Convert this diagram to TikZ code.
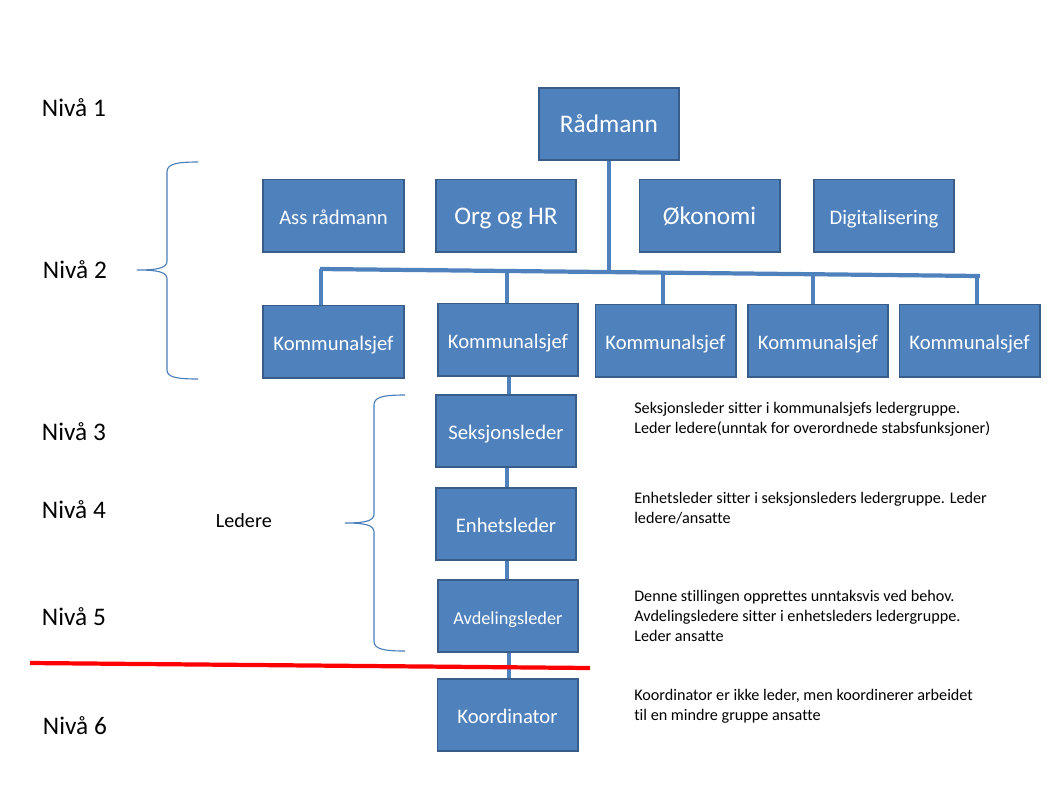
\documentclass[tikz,border=0pt]{standalone}
\usepackage{fontspec}
\setmainfont{Carlito}[Ligatures=NoCommon]
\usetikzlibrary{calc}

\definecolor{boxfill}{HTML}{4F81BD}
\definecolor{boxdraw}{HTML}{385D8A}
\definecolor{bracecol}{HTML}{4A7EBB}

\begin{document}
\begin{tikzpicture}[x=0.025cm, y=-0.025cm,
    orgbox/.style={draw=boxdraw, line width=1.4pt, fill=boxfill, text=white, minimum width=3.5cm, minimum height=1.8cm, inner sep=1pt, text height=12.5pt, text depth=0pt},
    big/.style={font=\fontsize{18}{21}\selectfont},
    mid/.style={font=\fontsize{14.7}{17}\selectfont},
    level/.style={anchor=west, font=\fontsize{18}{21}\selectfont},
    note/.style={anchor=north west, align=left, inner sep=0pt, font=\fontsize{11.5}{14.2}\selectfont},
    link/.style={draw=boxfill, line width=3pt},
    brace/.style={draw=bracecol, line width=0.8pt}]
    \useasboundingbox (0,0) rectangle (1048,785);

    % top level
    \node[orgbox, big] (radmann) at (609,124) {Rådmann};
    \node[orgbox, mid] (ass) at (333.5,215.5) {Ass rådmann};
    \node[orgbox, big] (orghr) at (506,215.5) {Org og HR};
    \node[orgbox, big] (okonomi) at (709.5,215.5) {Økonomi};
    \node[orgbox, mid] (digital) at (884,215.5) {Digitalisering};

    % kommunalsjefer
    \node[orgbox, mid] (ks1) at (333.5,341.5) {Kommunalsjef};
    \node[orgbox, mid] (ks2) at (508,339.5) {Kommunalsjef};
    \node[orgbox, mid] (ks3) at (665.5,340.5) {Kommunalsjef};
    \node[orgbox, mid] (ks4) at (818,340.5) {Kommunalsjef};
    \node[orgbox, mid] (ks5) at (969.5,340.5) {Kommunalsjef};

    % ledere under
    \node[orgbox, mid] (seksjon) at (506,431) {Seksjonsleder};
    \node[orgbox, mid] (enhet) at (506,524) {Enhetsleder};
    \node[orgbox, font=\fontsize{13}{15}\selectfont] (avdeling) at (508,616) {Avdelingsleder};
    \node[orgbox, mid] (koord) at (507.5,715) {Koordinator};

    % bar and drops
    \coordinate (barL) at (320,269);
    \coordinate (barR) at (980,276);
    \coordinate (d1) at (321,269);
    \coordinate (d2) at (507,271);
    \coordinate (d3) at (663,272.6);
    \coordinate (d4) at (813,274.2);
    \coordinate (d5) at (977,276);
    \draw[link] (radmann.south) -- (radmann.south |- 0,271.8);
    \draw[link] (barL) -- (barR);
    \foreach \d/\k in {d1/ks1, d2/ks2, d3/ks3, d4/ks4, d5/ks5}
      \draw[link] (\d) -- (\d |- \k.north);

    \draw[link] (509,0 |- ks2.south) -- (509,0 |- seksjon.north);
    \draw[link] (507,0 |- seksjon.south) -- (507,0 |- enhet.north);
    \draw[link] (507,0 |- enhet.south) -- (507,0 |- avdeling.north);
    \draw[link] (509,0 |- avdeling.south) -- (509,0 |- koord.north);

    % red line
    \coordinate (redL) at (30,663);
    \coordinate (redR) at (590,668);
    \draw[red, line width=3pt] (redL) -- (redR);

    % braces
    \draw[brace] (198,162) .. controls (176,162) and (167,164) .. (167,172) -- (167,261)
      .. controls (167,268) and (158,270) .. (137,270)
      .. controls (158,270) and (167,272) .. (167,279) -- (167,370)
      .. controls (167,377) and (176,379) .. (198,379);
    \draw[brace] (405,395) .. controls (383,395) and (374,397) .. (374,405) -- (374,514)
      .. controls (374,521) and (365,523) .. (345,523)
      .. controls (365,523) and (374,525) .. (374,532) -- (374,641)
      .. controls (374,649) and (383,651) .. (405,651);

    % levels
    \node[level] (niva1) at (37,108) {Nivå 1};
    \node[level] (niva2) at (38,270) {Nivå 2};
    \node[level] (niva3) at (37,432) {Nivå 3};
    \node[level] (niva4) at (37,510) {Nivå 4};
    \node[level] (niva5) at (37,617) {Nivå 5};
    \node[level] (niva6) at (38,726) {Nivå 6};
    \node[anchor=west, font=\fontsize{14.3}{17}\selectfont] (ledere) at (211,521) {Ledere};

    % notes
    \node[note] (note1) at (634,402) {Seksjonsleder sitter i kommunalsjefs ledergruppe.\\Leder ledere(unntak for overordnede stabsfunksjoner)};
    \node[note] (note2) at (634,492) {Enhetsleder sitter i seksjonsleders ledergruppe. Leder\\ledere/ansatte};
    \node[note] (note3) at (634,590) {Denne stillingen opprettes unntaksvis ved behov.\\Avdelingsledere sitter i enhetsleders ledergruppe.\\Leder ansatte};
    \node[note] (note4) at (634,689) {Koordinator er ikke leder, men koordinerer arbeidet\\til en mindre gruppe ansatte};
\end{tikzpicture}
\end{document}
